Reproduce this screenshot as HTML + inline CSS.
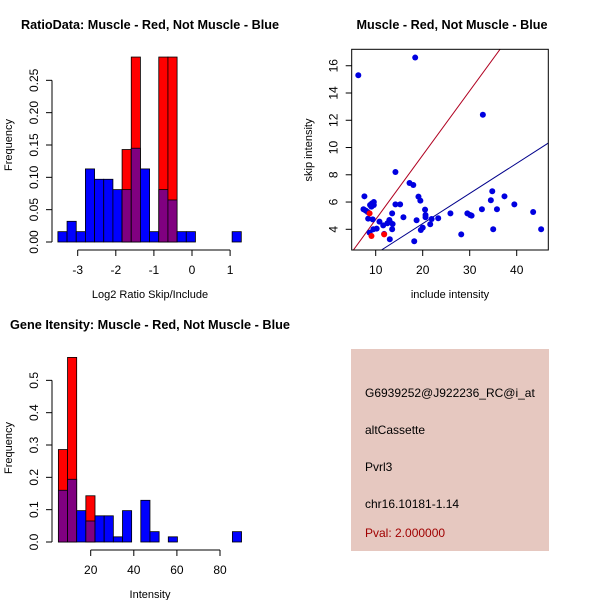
<!DOCTYPE html>
<html><head><meta charset="utf-8"><style>
body{margin:0;background:#fff}
svg{display:block;font-family:"Liberation Sans",sans-serif}
</style></head><body>
<svg id="c" width="600" height="600" viewBox="0 0 600 600">
<rect x="351" y="349" width="198" height="202" fill="#e6c8c0"/>
<text x="365" y="397" font-size="12">G6939252@J922236_RC@i_at</text>
<text x="365" y="434" font-size="12">altCassette</text>
<text x="365" y="471" font-size="12">Pvrl3</text>
<text x="365" y="508" font-size="12">chr16.10181-1.14</text>
<text x="365" y="537" font-size="12" fill="#a00000">Pval: 2.000000</text>
</svg>
<script>
// Histogram 1 data
const h1Start = -3.52, h1Step = 0.2407;
const h1Blue = [0.016,0.032,0.016,0.113,0.097,0.097,0.081,0.081,0.145,0.113,0.016,0.081,0.065,0.016,0.016,0,0,0,0,0.016];
const h1Red  = [0,0,0,0,0,0,0,0.143,0.286,0,0,0.286,0.286,0,0,0,0,0,0,0];
const h1XTicks = [-3,-2,-1,0,1];
const h1YTicks = [0,0.05,0.10,0.15,0.20,0.25];
const h1YLabels = ["0.00","0.05","0.10","0.15","0.20","0.25"];
// Histogram 2 data (bins from 5 step 4.25)
const h2Start = 5, h2Step = 4.25;
const h2Blue = [0.16,0.194,0.097,0.065,0.081,0.081,0.016,0.097,0,0.129,0.032,0,0.016,0,0,0,0,0,0,0.032];
const h2Red  = [0.286,0.571,0,0.143,0,0,0,0,0,0,0,0,0,0,0,0,0,0,0,0];
const h2XTicks = [20,40,60,80];
const h2YTicks = [0,0.1,0.2,0.3,0.4,0.5];
const h2YLabels = ["0.0","0.1","0.2","0.3","0.4","0.5"];
// Scatter data
const scBlueX = [6.3,18.4,32.8,14.2,17.2,18.0,7.6,19.1,19.5,7.4,7.9,8.3,8.8,9.2,9.6,9.6,9.1,8.4,8.7,9.36,9.5,10.2,10.8,11.6,11.8,12.5,12.9,13.0,13.5,13.6,13.5,13.0,14.2,15.2,15.9,18.2,18.7,19.6,20.0,20.5,20.6,20.6,21.6,21.9,23.3,25.9,28.2,29.5,30.1,30.4,32.6,34.5,34.8,35.0,35.8,37.4,39.5,43.5,45.2];
const scBlueY = [15.3,16.6,12.4,8.2,7.4,7.25,6.42,6.4,6.1,5.47,5.37,5.27,5.78,5.9,6.0,5.78,5.66,4.78,3.76,4.73,4.0,4.05,4.56,4.29,3.66,4.44,4.68,4.56,5.17,4.39,4.0,3.27,5.83,5.83,4.88,3.12,4.66,3.95,4.12,5.44,5.05,4.88,4.37,4.76,4.81,5.17,3.63,5.17,5.05,5.0,5.47,6.13,6.79,4.0,5.47,6.42,5.83,5.27,4.0];
const scRedX = [8.7,9.1,11.8];
const scRedY = [5.17,3.51,3.63];
const scXTicks = [10,20,30,40];
const scYTicks = [4,6,8,10,12,14,16];
const lineSlopes = [0.472,0.221];

const svg = document.getElementById('c');
const NS = 'http://www.w3.org/2000/svg';
function mk(tag, attrs, parent){const e=document.createElementNS(NS,tag);for(const k in attrs)e.setAttribute(k,attrs[k]);(parent||svg).appendChild(e);return e;}
function txt(s,x,y,size,opt){const e=mk('text',Object.assign({x:x,y:y,'font-size':size,'text-anchor':'middle'},opt||{}));e.textContent=s;return e;}

function hist(prefix, start, step, blue, red, sx, sy){
  const g=mk('g',{});
  
  
  for(let i=0;i<blue.length;i++){
    const a=start+i*step, b=a+step, bv=blue[i], rv=red[i];
    const xa=sx(a), xb=sx(b);
    const draw=(v,col,name)=>{if(v<=0)return;const r=mk('rect',{x:xa,y:sy(v),width:xb-xa,height:sy(0)-sy(v),fill:col,stroke:'#000','stroke-width':0.8},g);
      
      };
    if(rv>bv){draw(rv,'#ff0000',prefix+'-red-bar');draw(bv,'#800080',prefix+'-overlap-bar');}
    else{draw(bv,'#0000ff',prefix+'-blue-bar');draw(rv,'#800080',prefix+'-overlap-bar');}
  }
}
function yAxis(ticks,labels,sy,x,name){
  const g=mk('g',{stroke:'#000','stroke-width':1});
  
  
  mk('line',{x1:x,x2:x,y1:sy(ticks[0]),y2:sy(ticks[ticks.length-1])},g);
  ticks.forEach((t,i)=>{mk('line',{x1:x,x2:x-6,y1:sy(t),y2:sy(t)},g);
    txt(labels[i],x-14,sy(t),12,{transform:`rotate(-90 ${x-14} ${sy(t)})`,stroke:'none'});});
}
function xAxis(ticks,sx,y,name){
  const g=mk('g',{stroke:'#000','stroke-width':1});
  
  
  mk('line',{x1:sx(ticks[0]),x2:sx(ticks[ticks.length-1]),y1:y,y2:y},g);
  ticks.forEach(t=>{mk('line',{x1:sx(t),x2:sx(t),y1:y,y2:y+6},g);txt(String(t),sx(t),y+24,12,{stroke:'none'});});
}

// Plot 1
const s1x=v=>77.7+(v+3)*38.1, s1y=v=>242-v*646.7;
hist('ratio-hist',h1Start,h1Step,h1Blue,h1Red,s1x,s1y);
yAxis(h1YTicks,h1YLabels,s1y,52,'ratio-y-axis');
xAxis(h1XTicks,s1x,250,'ratio-x-axis');
let t=txt('RatioData: Muscle - Red, Not Muscle - Blue',150,29,13,{'font-weight':'bold',textLength:258,lengthAdjust:'spacingAndGlyphs'});

t=txt('Log2 Ratio Skip/Include',150,298,11);
t=txt('Frequency',12,145,11,{transform:'rotate(-90 12 145)'});

// Plot 3
const s3x=v=>90.7+(v-20)*2.155, s3y=v=>542-v*323.3;
hist('intensity-hist',h2Start,h2Step,h2Blue,h2Red,s3x,s3y);
yAxis(h2YTicks,h2YLabels,s3y,52,'intensity-y-axis');
xAxis(h2XTicks,s3x,550,'intensity-x-axis');
t=txt('Gene Itensity: Muscle - Red, Not Muscle - Blue',150,329,13,{'font-weight':'bold',textLength:280,lengthAdjust:'spacingAndGlyphs'});

t=txt('Intensity',150,598,11);
t=txt('Frequency',12,448,11,{transform:'rotate(-90 12 448)'});

// Plot 2
const s2x=v=>375.7+(v-10)*4.7, s2y=v=>229.3-(v-4)*13.63;
const clip=mk('clipPath',{id:'pc'});mk('rect',{x:352,y:49,width:196,height:201},clip);
const lg=mk('g',{'clip-path':'url(#pc)'});
lineSlopes.forEach((m,i)=>{const l=mk('line',{x1:s2x(0),y1:s2y(0),x2:s2x(60),y2:s2y(60*m),stroke:i?'#00008b':'#b00020','stroke-width':1},lg);
  
  });
scBlueX.forEach((x,i)=>{const c=mk('circle',{cx:s2x(x),cy:s2y(scBlueY[i]),r:3,fill:'#0000e0'},lg);
  
  });
scRedX.forEach((x,i)=>{const c=mk('circle',{cx:s2x(x),cy:s2y(scRedY[i]),r:3,fill:'#ff0000'},lg);
  
  });
const fr=mk('rect',{x:351.7,y:49.3,width:196.6,height:200.7,fill:'none',stroke:'#000','stroke-width':1});

(function(){const g=mk('g',{stroke:'#000'});
 scXTicks.forEach(v=>{mk('line',{x1:s2x(v),x2:s2x(v),y1:250,y2:256},g);txt(String(v),s2x(v),274,12,{stroke:'none'});});
 const h=mk('g',{stroke:'#000'});
 scYTicks.forEach(v=>{mk('line',{x1:351.7,x2:345.7,y1:s2y(v),y2:s2y(v)},h);txt(String(v),337.7,s2y(v),12,{stroke:'none',transform:`rotate(-90 337.7 ${s2y(v)})`});});})();
t=txt('Muscle - Red, Not Muscle - Blue',452,29,13,{'font-weight':'bold',textLength:191,lengthAdjust:'spacingAndGlyphs'});

t=txt('include intensity',450,298,11);
t=txt('skip intensity',312,150,11,{transform:'rotate(-90 312 150)'});
</script>
</body></html>
